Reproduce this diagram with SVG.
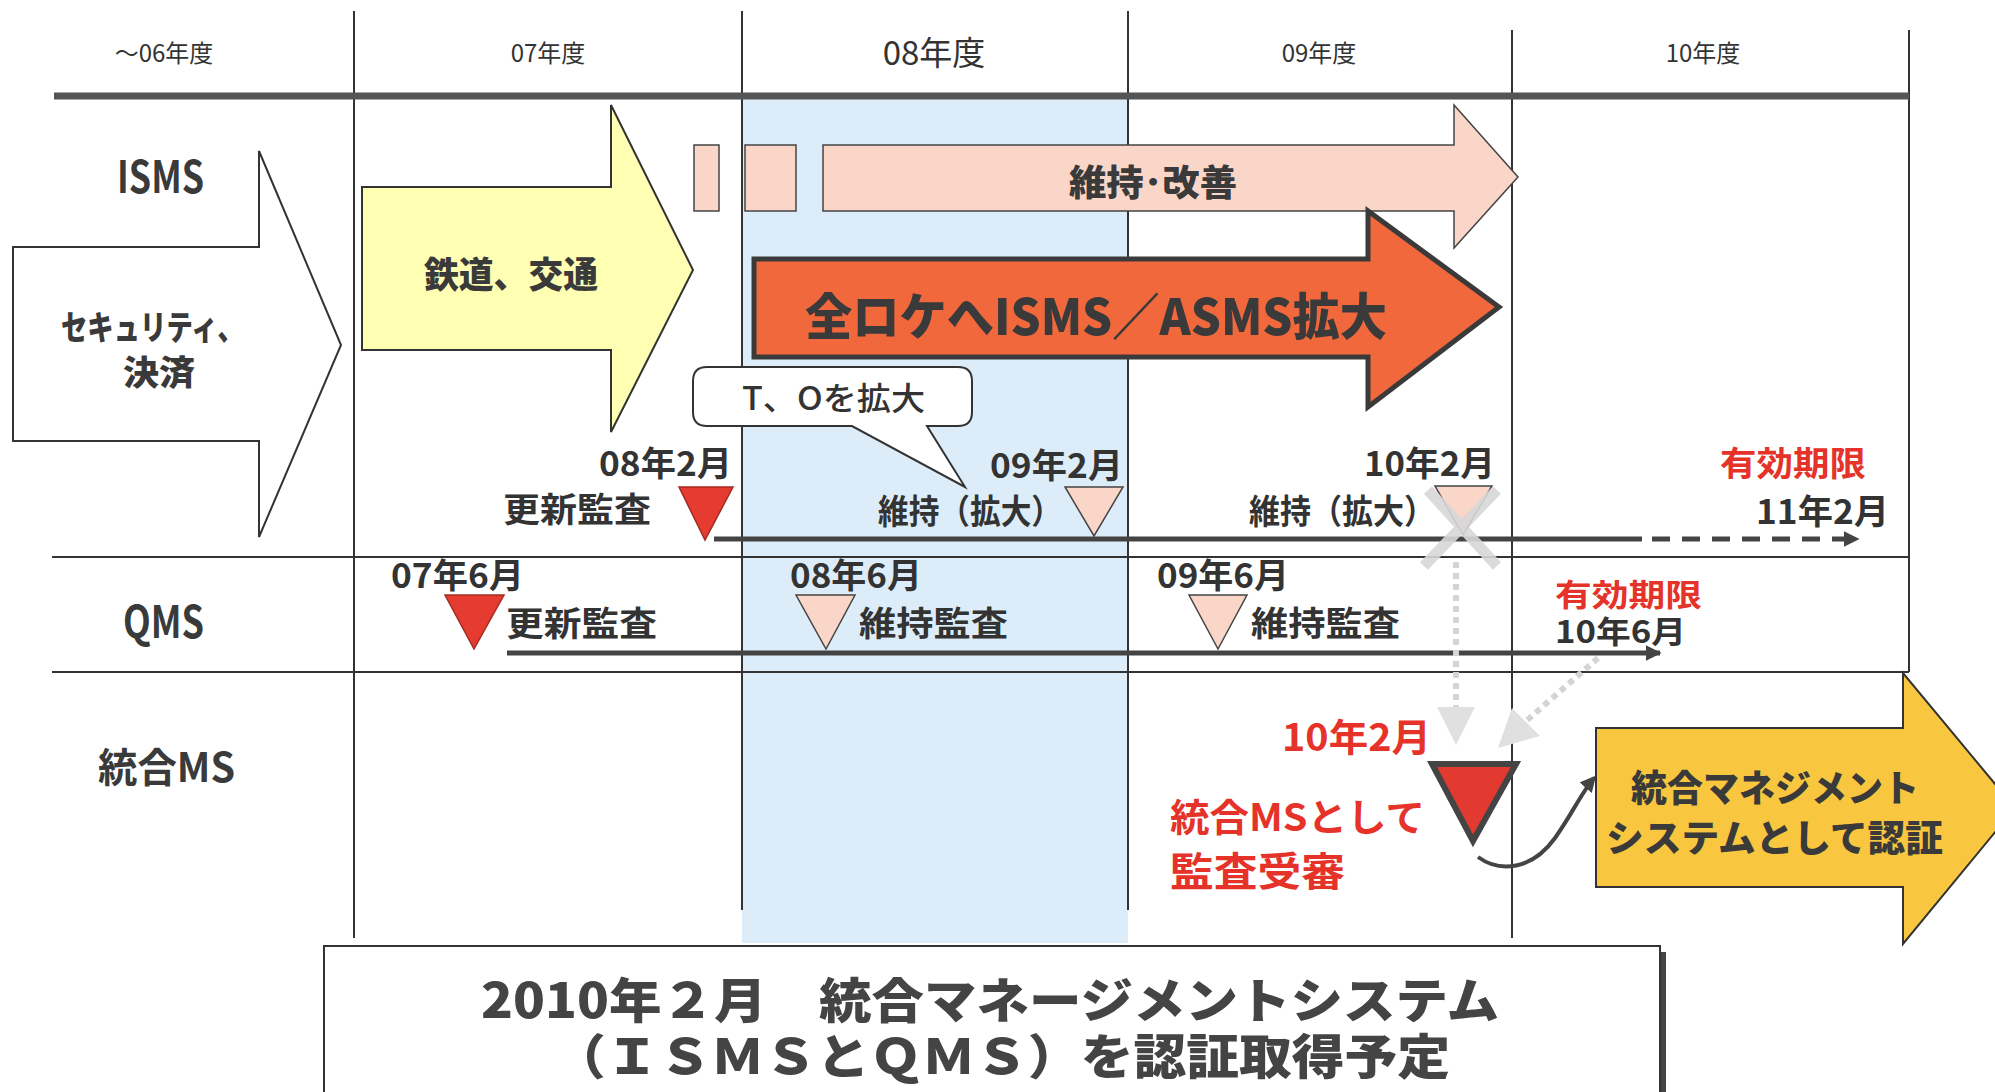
<svg xmlns="http://www.w3.org/2000/svg" width="1995" height="1092" viewBox="0 0 1995 1092">
<defs>
<style>
text { font-family: 'Noto Sans CJK JP','Noto Sans',sans-serif; dominant-baseline: central; }
.hd { font-size:24px; fill:#333; text-anchor:middle; }
.row { font-size:44px; font-weight:700; fill:#3a3a3a; }
.lbl { font-size:34px; font-weight:700; fill:#333; }
.red { fill:#e5332a; }
.heavy { font-weight:900; fill:#3a3a3a; }
.grid { stroke:#333; stroke-width:2; fill:none; }
.ol { stroke:#333; stroke-width:2; }
.pk { fill:#fad6c8; stroke:#444; stroke-width:1.5; }
.rd { fill:#e63b30; stroke:#a52a22; stroke-width:1.5; }
.gray { stroke:#d4d4d4; fill:none; }
</style>
<marker id="ah" viewBox="0 0 10 10" refX="9" refY="5" markerWidth="3.2" markerHeight="3.2" orient="auto"><path d="M0,0 L10,5 L0,10 Z" fill="#444"/></marker>
<marker id="ah2" viewBox="0 0 10 10" refX="8" refY="5" markerWidth="4" markerHeight="4" orient="auto"><path d="M0,0 L10,5 L0,10 Z" fill="#444"/></marker>
</defs>
<rect width="1995" height="1092" fill="#fff"/>

<g id="band08">
<rect x="742" y="99" width="386" height="844" fill="#dcedf9"/>
</g>

<g id="grid">
<line class="grid" x1="354" y1="11" x2="354" y2="938"/>
<line class="grid" x1="742" y1="11" x2="742" y2="910"/>
<line class="grid" x1="1128" y1="11" x2="1128" y2="910"/>
<line class="grid" x1="1512" y1="30" x2="1512" y2="938"/>
<line class="grid" x1="1909" y1="30" x2="1909" y2="672"/>
<line x1="54" y1="96" x2="1909" y2="96" stroke="#555" stroke-width="7"/>
<line class="grid" x1="52" y1="557" x2="1909" y2="557"/>
<line class="grid" x1="52" y1="672" x2="1909" y2="672"/>
</g>

<g id="headers">
<text class="hd" x="164" y="51">～06年度</text>
<text class="hd" x="548" y="51">07年度</text>
<text class="hd" x="934" y="51" style="font-size:33px">08年度</text>
<text class="hd" x="1319" y="51">09年度</text>
<text class="hd" x="1703" y="51">10年度</text>
</g>

<g id="row-labels">
<text class="row" x="117" y="174" textLength="87" lengthAdjust="spacingAndGlyphs">ISMS</text>
<text class="row" x="123" y="619" textLength="81" lengthAdjust="spacingAndGlyphs">QMS</text>
<text class="row" x="98" y="765" textLength="137" lengthAdjust="spacingAndGlyphs" style="font-size:40px">統合MS</text>
</g>

<g id="security-arrow">
<polygon points="13,247 259,247 259,151 341,345 259,537 259,441 13,441" fill="#fff" class="ol"/>
<text class="heavy" x="61" y="325" style="font-size:34px" textLength="183" lengthAdjust="spacingAndGlyphs">セキュリティ、</text>
<text class="heavy" x="123" y="370" style="font-size:34px" textLength="72" lengthAdjust="spacingAndGlyphs">決済</text>
</g>

<g id="rail-arrow">
<polygon points="362,187 611,187 611,105 693,270 611,432 611,350 362,350" fill="#ffffb3" class="ol"/>
<text class="heavy" x="424" y="272" style="font-size:36px" textLength="174" lengthAdjust="spacingAndGlyphs">鉄道、交通</text>
</g>

<g id="maintain-arrow">
<rect x="694" y="145" width="25" height="66" class="pk"/>
<rect x="745" y="145" width="51" height="66" class="pk"/>
<polygon points="823,145 1454,145 1454,105 1518,177 1454,248 1454,211 823,211" class="pk"/>
<text class="heavy" x="1069" y="180" style="font-size:36px" textLength="168" lengthAdjust="spacingAndGlyphs">維持･改善</text>
</g>

<g id="expand-arrow">
<polygon points="754,259 1368,259 1368,211 1499,307 1368,407 1368,357 754,357" fill="#f0683c" stroke="#3a3a3a" stroke-width="5" stroke-linejoin="miter"/>
<text class="heavy" x="805" y="313" style="font-size:50px" textLength="582" lengthAdjust="spacingAndGlyphs">全ロケへISMS／ASMS拡大</text>
</g>

<g id="callout">
<path d="M707,367 H958 Q972,367 972,381 V412 Q972,426 958,426 H927 L965,487 L852,426 H707 Q693,426 693,412 V381 Q693,367 707,367 Z" fill="#fff" stroke="#333" stroke-width="2"/>
<text x="742" y="396" style="font-size:32px;font-weight:500;fill:#333" textLength="183" lengthAdjust="spacingAndGlyphs">T、Oを拡大</text>
</g>

<g id="connectors">
<line x1="714" y1="539" x2="1642" y2="539" stroke="#444" stroke-width="5"/>
<line x1="1652" y1="539" x2="1858" y2="539" stroke="#444" stroke-width="5" stroke-dasharray="18 12" marker-end="url(#ah)"/>
<line x1="507" y1="653" x2="1660" y2="653" stroke="#444" stroke-width="5" marker-end="url(#ah)"/>
<line class="gray" x1="1456" y1="562" x2="1456" y2="707" stroke-width="6" stroke-dasharray="6 5"/>
<polygon points="1437,707 1475,707 1456,745" fill="#e0e0e0"/>
<line class="gray" x1="1598" y1="658" x2="1516" y2="730" stroke-width="6" stroke-dasharray="6 5"/>
<polygon points="1512,708 1540,736 1498,748" fill="#e0e0e0"/>
<path d="M1478,857 C1500,873 1532,870 1555,838 C1572,814 1582,792 1594,778" fill="none" stroke="#444" stroke-width="4" marker-end="url(#ah2)"/>
</g>

<g id="isms-audits">
<text class="lbl" x="599" y="461" textLength="133" lengthAdjust="spacingAndGlyphs">08年2月</text>
<text class="lbl" x="503" y="507" textLength="148" lengthAdjust="spacingAndGlyphs">更新監査</text>
<polygon points="679,487 733,487 705,540" class="rd"/>
<text class="lbl" x="990" y="463" textLength="133" lengthAdjust="spacingAndGlyphs">09年2月</text>
<text class="lbl" x="878" y="509" textLength="184" lengthAdjust="spacingAndGlyphs">維持（拡大）</text>
<polygon points="1065,487 1123,487 1094,536" class="pk"/>
<text class="lbl" x="1364" y="461" textLength="131" lengthAdjust="spacingAndGlyphs">10年2月</text>
<text class="lbl" x="1249" y="509" textLength="186" lengthAdjust="spacingAndGlyphs">維持（拡大）</text>
<polygon points="1435,486 1492,486 1463,535" class="pk"/>
<g opacity="0.9">
<line x1="1428" y1="490" x2="1497" y2="566" stroke="#d8d8d8" stroke-width="11"/>
<line x1="1497" y1="490" x2="1424" y2="566" stroke="#d8d8d8" stroke-width="11"/>
</g>
<text class="lbl red" x="1720" y="461" textLength="146" lengthAdjust="spacingAndGlyphs">有効期限</text>
<text class="lbl" x="1756" y="509" textLength="133" lengthAdjust="spacingAndGlyphs">11年2月</text>
</g>

<g id="qms-audits">
<text class="lbl" x="391" y="573" textLength="133" lengthAdjust="spacingAndGlyphs">07年6月</text>
<polygon points="445,595 504,595 474,649" class="rd"/>
<text class="lbl" x="506" y="621" textLength="151" lengthAdjust="spacingAndGlyphs">更新監査</text>
<text class="lbl" x="790" y="573" textLength="132" lengthAdjust="spacingAndGlyphs">08年6月</text>
<polygon points="796,595 855,595 826,649" class="pk"/>
<text class="lbl" x="859" y="621" textLength="149" lengthAdjust="spacingAndGlyphs">維持監査</text>
<text class="lbl" x="1157" y="573" textLength="132" lengthAdjust="spacingAndGlyphs">09年6月</text>
<polygon points="1189,595 1247,595 1218,649" class="pk"/>
<text class="lbl" x="1251" y="621" textLength="149" lengthAdjust="spacingAndGlyphs">維持監査</text>
<text class="lbl red" x="1555" y="592" style="font-size:31px" textLength="147" lengthAdjust="spacingAndGlyphs">有効期限</text>
<text class="lbl" x="1555" y="629" style="font-size:31px" textLength="131" lengthAdjust="spacingAndGlyphs">10年6月</text>
</g>

<g id="integrated-audit">
<text class="lbl red" x="1282" y="734" style="font-size:38px" textLength="149" lengthAdjust="spacingAndGlyphs">10年2月</text>
<polygon points="1432,764 1516,764 1473,841" fill="#e23a31" stroke="#444" stroke-width="6" stroke-linejoin="miter"/>
<text class="lbl red" x="1170" y="814" style="font-size:38px" textLength="255" lengthAdjust="spacingAndGlyphs">統合MSとして</text>
<text class="lbl red" x="1170" y="869" style="font-size:40px" textLength="175" lengthAdjust="spacingAndGlyphs">監査受審</text>
</g>

<g id="certify-arrow">
<polygon points="1596,728 1903,728 1903,673 2015,808 1903,944 1903,887 1596,887" fill="#f8c73f" class="ol"/>
<text class="heavy" x="1631" y="786" style="font-size:37px" textLength="288" lengthAdjust="spacingAndGlyphs">統合マネジメント</text>
<text class="heavy" x="1606" y="836" style="font-size:37px" textLength="337" lengthAdjust="spacingAndGlyphs">システムとして認証</text>
</g>

<g id="summary-box">
<rect x="1661" y="952" width="5" height="145" fill="#444"/>
<rect x="324" y="946" width="1336" height="160" fill="#fff" stroke="#333" stroke-width="2"/>
<text class="heavy" x="481" y="997" style="font-size:48px;fill:#444" textLength="1018" lengthAdjust="spacingAndGlyphs">2010年２月　統合マネージメントシステム</text>
<text class="heavy" x="553" y="1053" style="font-size:48px;fill:#444" textLength="897" lengthAdjust="spacingAndGlyphs">（ＩＳＭＳとＱＭＳ）を認証取得予定</text>
</g>
</svg>
